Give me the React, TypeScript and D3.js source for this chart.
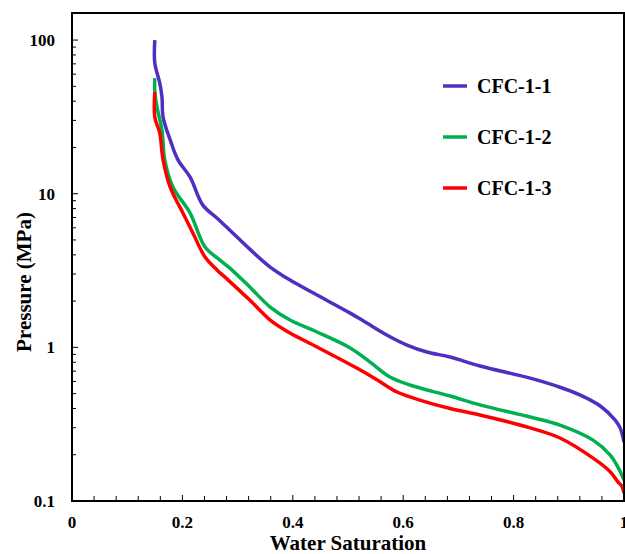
import React from "react";
import * as d3 from "d3";

const seriesNames = ["CFC-1-1", "CFC-1-2", "CFC-1-3"];
const seriesColors = ["#4F2EC0", "#00B050", "#FF0000"];

const sat1 = [0.150, 0.150, 0.159, 0.163, 0.165, 0.178, 0.192, 0.214, 0.237, 0.263, 0.286, 0.322, 0.359, 0.395, 0.444, 0.504, 0.534, 0.571, 0.607, 0.643, 0.685, 0.739, 0.830, 0.884, 0.920, 0.957, 0.984, 0.993, 1.0];
const pres1 = [100, 70.8, 52.5, 42.6, 31.5, 22.3, 16.6, 12.8, 8.43, 6.93, 5.79, 4.36, 3.33, 2.74, 2.19, 1.67, 1.44, 1.20, 1.035, 0.932, 0.865, 0.756, 0.63, 0.55, 0.49, 0.415, 0.336, 0.299, 0.242];

const sat2 = [0.150, 0.150, 0.154, 0.163, 0.168, 0.183, 0.214, 0.241, 0.268, 0.286, 0.322, 0.359, 0.395, 0.444, 0.504, 0.540, 0.576, 0.612, 0.685, 0.739, 0.830, 0.884, 0.944, 0.975, 0.989, 1.0];
const pres2 = [56.5, 45.8, 36.6, 25.9, 16.6, 11.0, 7.48, 4.50, 3.70, 3.28, 2.47, 1.83, 1.505, 1.258, 0.990, 0.802, 0.641, 0.569, 0.482, 0.422, 0.352, 0.312, 0.249, 0.199, 0.166, 0.137];

const sat3 = [0.150, 0.150, 0.159, 0.165, 0.178, 0.201, 0.219, 0.241, 0.263, 0.283, 0.322, 0.359, 0.395, 0.444, 0.516, 0.553, 0.589, 0.630, 0.685, 0.739, 0.830, 0.884, 0.944, 0.975, 0.989, 0.996, 1.0];
const pres3 = [45.8, 31.5, 24.8, 16.6, 11.0, 7.48, 5.55, 3.87, 3.18, 2.74, 2.03, 1.505, 1.239, 1.005, 0.733, 0.613, 0.512, 0.454, 0.400, 0.363, 0.299, 0.257, 0.190, 0.155, 0.133, 0.125, 0.113];

const xTickValues = [0, 0.2, 0.4, 0.6, 0.8, 1];
const xTickLabels = ["0", "0.2", "0.4", "0.6", "0.8", "1"];
const yTickValues = [0.1, 1, 10, 100];
const yTickLabels = ["0.1", "1", "10", "100"];

const W = 625, H = 554;
const L = 72, R = 624, T = 13, B = 501;
const FONT = "'Liberation Serif', 'Times New Roman', serif";

export default function App() {
  const x = d3.scaleLinear().domain([0, 1]).range([L, R]);
  const y = d3.scaleLog().domain([0.1, 150]).range([B, T]);

  const series = [
    { name: seriesNames[0], color: seriesColors[0], s: sat1, p: pres1 },
    { name: seriesNames[1], color: seriesColors[1], s: sat2, p: pres2 },
    { name: seriesNames[2], color: seriesColors[2], s: sat3, p: pres3 },
  ];

  const line = d3
    .line<[number, number]>()
    .x((d) => x(d[0]))
    .y((d) => y(d[1]))
    .curve(d3.curveCatmullRom.alpha(0.5));

  const xMinor = d3.range(0, 1.0001, 0.04).map((v) => +v.toFixed(2));
  const yMinor: number[] = [];
  [0.1, 1, 10].forEach((dec) => {
    for (let k = 2; k <= 9; k++) yMinor.push(dec * k);
  });

  return (
    <svg width={W} height={H} style={{ position: "absolute", left: 0, top: 0 }} fontFamily={FONT}>
      <rect x={0} y={0} width={W} height={H} fill="#fff" />
      {series.map((sr) => (
        <path
          key={sr.name}
          d={line(sr.s.map((v, i) => [v, sr.p[i]] as [number, number])) || ""}
          fill="none"
          stroke={sr.color}
          strokeWidth={3.5}
          strokeLinejoin="round"
          strokeLinecap="butt"
        />
      ))}
      <rect x={L} y={T} width={R - L} height={B - T} fill="none" stroke="#000" strokeWidth={2} />
      {xMinor.map((v) => (
        <line key={"xm" + v} x1={x(v)} x2={x(v)} y1={B} y2={B - (xTickValues.some((t) => Math.abs(t - v) < 1e-6) ? 6 : 5)} stroke="#000" strokeWidth={1} />
      ))}
      {yMinor.map((v, i) => (
        <line key={"ym" + i} x1={L} x2={L + 4} y1={y(v)} y2={y(v)} stroke="#000" strokeWidth={1} />
      ))}
      {yTickValues.map((v) => (
        <line key={"yM" + v} x1={L} x2={L + 6} y1={y(v)} y2={y(v)} stroke="#000" strokeWidth={1} />
      ))}
      {xTickValues.map((v, i) => (
        <text key={"xl" + v} x={x(v)} y={528} textAnchor="middle" fontSize={17} fontWeight="bold">
          {xTickLabels[i]}
        </text>
      ))}
      {yTickValues.map((v, i) => (
        <text key={"yl" + v} x={55} y={y(v) + 6} textAnchor="end" fontSize={17} fontWeight="bold">
          {yTickLabels[i]}
        </text>
      ))}
      <text x={(L + R) / 2} y={550} textAnchor="middle" fontSize={21} fontWeight="bold">
        Water Saturation
      </text>
      <text transform={`translate(31, 282) rotate(-90)`} textAnchor="middle" fontSize={21} fontWeight="bold">
        Pressure (MPa)
      </text>
      {series.map((sr, i) => (
        <g key={"lg" + i} transform={`translate(0, ${86 + i * 51})`}>
          <line x1={443} x2={467} y1={0} y2={0} stroke={sr.color} strokeWidth={3.5} />
          <text x={477} y={7} fontSize={20} fontWeight="bold">
            {sr.name}
          </text>
        </g>
      ))}
    </svg>
  );
}
